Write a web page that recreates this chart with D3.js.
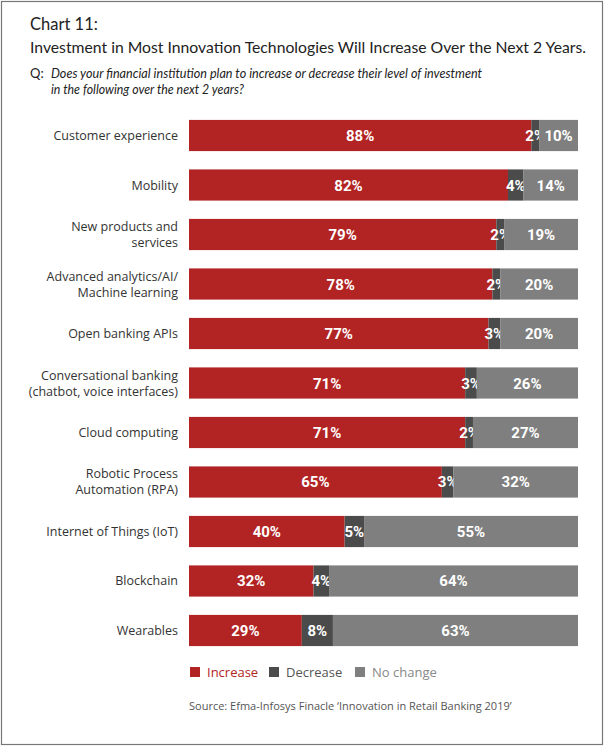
<!DOCTYPE html>
<html><head><meta charset="utf-8">
<script src="https://cdn.jsdelivr.net/npm/d3@7"></script>
<style>body{margin:0;background:#fff}svg{display:block}</style>
</head><body>
<svg id="c" width="607" height="748"></svg>
<script>
const categories = [
  ["Customer experience"],
  ["Mobility"],
  ["New products and", "services"],
  ["Advanced analytics/AI/", "Machine learning"],
  ["Open banking APIs"],
  ["Conversational banking", "(chatbot, voice interfaces)"],
  ["Cloud computing"],
  ["Robotic Process", "Automation (RPA)"],
  ["Internet of Things (IoT)"],
  ["Blockchain"],
  ["Wearables"]
];
const increase = [88,82,79,78,77,71,71,65,40,32,29];
const decrease = [2,4,2,2,3,3,2,3,5,4,8];
const noChange = [10,14,19,20,20,26,27,32,55,64,63];
const seriesNames = ["Increase","Decrease","No change"];
const colors = ["#b22424","#4b4b4b","#7f7f7f"];

const svg = d3.select("#c");
svg.append("rect").attr("x",1.5).attr("y",1.5).attr("width",601).attr("height",743)
  .attr("fill","none").attr("stroke","#777").attr("stroke-width",1.2);

const font = "'Open Sans', 'DejaVu Sans', sans-serif";
const tfont = "Lato, 'Open Sans', sans-serif";
svg.append("text").attr("x",30).attr("y",30).attr("font-family",tfont).attr("font-size",16.5)
  .attr("fill","#222").text("Chart 11:");
svg.append("text").attr("x",30).attr("y",53).attr("font-family",tfont).attr("font-size",15.8)
  .attr("fill","#222").attr("textLength",556).attr("lengthAdjust","spacingAndGlyphs")
  .text("Investment in Most Innovation Technologies Will Increase Over the Next 2 Years.");
svg.append("text").attr("x",30).attr("y",78).attr("font-family",tfont).attr("font-size",13)
  .attr("fill","#222").text("Q:");
svg.append("text").attr("x",51).attr("y",78).attr("font-family",tfont).attr("font-size",13)
  .attr("font-style","italic").attr("fill","#222").attr("textLength",431).attr("lengthAdjust","spacingAndGlyphs")
  .text("Does your financial institution plan to increase or decrease their level of investment");
svg.append("text").attr("x",51).attr("y",94).attr("font-family",tfont).attr("font-size",13)
  .attr("font-style","italic").attr("fill","#222").attr("textLength",193).attr("lengthAdjust","spacingAndGlyphs")
  .text("in the following over the next 2 years?");

const x = d3.scaleLinear().domain([0,100]).range([189,578]);
const y = d3.scaleBand().domain(d3.range(categories.length)).range([111,655]).paddingInner(0.37).paddingOuter(0.18);

const rows = categories.map((c,i)=>({i, vals:[increase[i],decrease[i],noChange[i]]}));
const stacked = d3.stack().keys([0,1,2]).value((d,k)=>d.vals[k])(rows);

stacked.forEach((layer,k)=>{
  const g = svg.append("g");
  g.selectAll("rect").data(layer).join("rect")
    .attr("x",d=>x(d[0])).attr("y",d=>y(d.data.i))
    .attr("width",d=>x(d[1])-x(d[0])).attr("height",y.bandwidth())
    .attr("fill",colors[k]);
  g.selectAll("text").data(layer).join("text")
    .attr("x",d=>(x(d[0])+x(d[1]))/2).attr("y",d=>y(d.data.i)+y.bandwidth()/2+5.5)
    .attr("text-anchor","middle").attr("font-family","Roboto, 'DejaVu Sans', sans-serif")
    .attr("font-weight","bold").attr("font-size",15).attr("fill","#fff")
    .text(d=>d.data.vals[k]+"%");
});

categories.forEach((lines,i)=>{
  const cy = y(i)+y.bandwidth()/2;
  const t = svg.append("text").attr("text-anchor","end").attr("font-family",font)
    .attr("font-size",12.5).attr("fill","#333");
  lines.forEach((l,j)=>{
    t.append("tspan").attr("x",178).attr("y",cy+4.5+(j-(lines.length-1)/2)*16).text(l);
  });
});

const legX = [190,269,355];
seriesNames.forEach((n,k)=>{
  svg.append("rect").attr("x",legX[k]).attr("y",667).attr("width",10).attr("height",10).attr("fill",colors[k]);
  svg.append("text").attr("x",legX[k]+17).attr("y",677).attr("font-family",font).attr("font-size",13)
    .attr("fill",k===0?"#b22424":(k===1?"#555":"#888")).text(n);
});
svg.append("text").attr("x",189).attr("y",710).attr("font-family",font).attr("font-size",11)
  .attr("fill","#555").text("Source: Efma-Infosys Finacle \u2018Innovation in Retail Banking 2019\u2019");
</script>
</body></html>
